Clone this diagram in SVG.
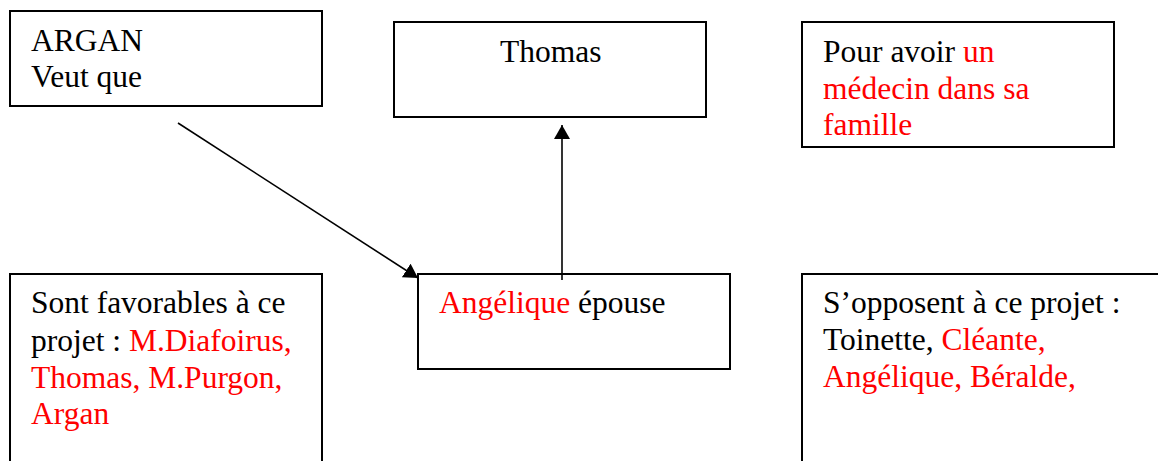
<svg xmlns="http://www.w3.org/2000/svg" width="1158" height="461" viewBox="0 0 1158 461">
<style>
.box{fill:#fff;stroke:#000;stroke-width:2}
text{font-size:31.5px;fill:#000}
.r{fill:#ff0000}
.conn{stroke:#000;stroke-width:1.6;fill:none}
</style>
<defs>
<marker id="ah" markerUnits="userSpaceOnUse" markerWidth="16" markerHeight="16" refX="14" refY="8" orient="auto">
<path d="M0,0 L14,8 L0,16 z" fill="#000"/>
</marker>
</defs>
<g font-family="'Liberation Serif', 'DejaVu Serif', serif">
<g id="n-argan">
<rect class="box" x="10" y="11" width="312" height="95"/>
<text x="31" y="51">ARGAN</text>
<text x="31" y="87">Veut que</text>
</g>
<g id="n-thomas">
<rect class="box" x="394" y="22" width="312" height="95"/>
<text x="500" y="62">Thomas</text>
</g>
<g id="n-pour">
<rect class="box" x="802" y="22" width="312" height="125"/>
<text x="823" y="62">Pour avoir <tspan class="r">un</tspan></text>
<text x="823" y="99" class="r">médecin dans sa</text>
<text x="823" y="135" class="r">famille</text>
</g>
<g id="n-favorables">
<rect class="box" x="10" y="274" width="312" height="200"/>
<text x="31" y="313">Sont favorables à ce</text>
<text x="31" y="351">projet : <tspan class="r">M.Diafoirus,</tspan></text>
<text x="31" y="388" class="r">Thomas, M.Purgon,</text>
<text x="31" y="424" class="r">Argan</text>
</g>
<g id="n-angelique">
<rect class="box" x="418" y="274" width="312" height="95"/>
<text x="439" y="313"><tspan class="r">Angélique</tspan> épouse</text>
</g>
<g id="n-opposent">
<rect class="box" x="802" y="274" width="370" height="200"/>
<text x="823" y="313">S’opposent à ce projet :</text>
<text x="823" y="350">Toinette, <tspan class="r">Cléante,</tspan></text>
<text x="823" y="387" class="r">Angélique, Béralde,</text>
</g>
</g>
<g id="connectors">
<line class="conn" x1="178" y1="123" x2="418" y2="278" marker-end="url(#ah)"/>
<line class="conn" x1="562" y1="280" x2="562" y2="125" marker-end="url(#ah)"/>
</g>
</svg>
